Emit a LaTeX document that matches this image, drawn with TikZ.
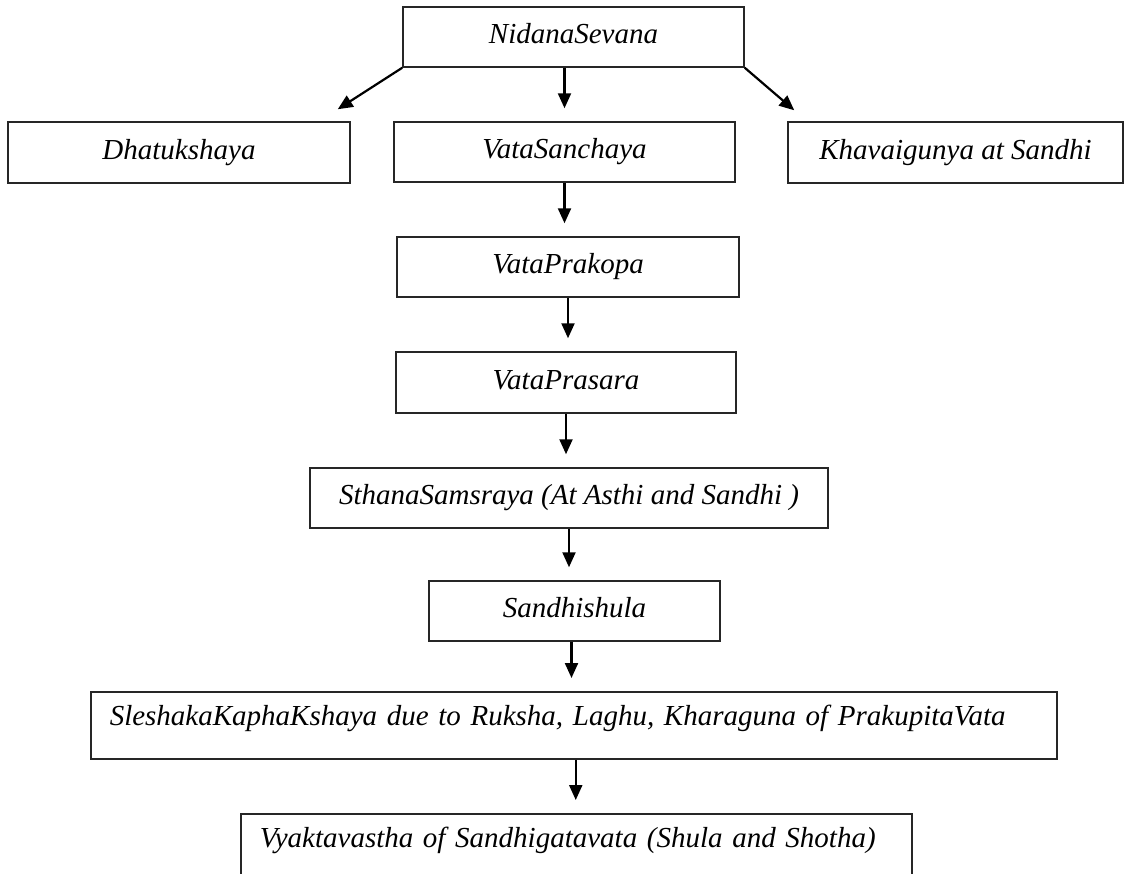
\documentclass[tikz,border=0pt]{standalone}
\usepackage{fontspec}
\setmainfont{Liberation Serif}
\usetikzlibrary{arrows.meta}
\begin{document}
\begin{tikzpicture}[x=1pt,y=-1pt,
  box/.style={draw=black!85, line width=1.5pt, inner sep=0pt,
    font=\fontsize{29}{34}\selectfont\itshape,
    text height=20pt, text depth=7pt},
  lbox/.style={draw=black!85, line width=1.5pt, inner ysep=0pt, inner xsep=19pt,
    font=\fontsize{29}{34}\selectfont\itshape, align=left, anchor=north west},
  arr/.style={line width=2.2pt, -{Triangle[length=15pt,width=13pt]}},
  varr/.style={arr, shorten >=13pt}]
\useasboundingbox[fill=white] (0,0) rectangle (1124,873);
\node[box, minimum width=341pt, minimum height=60pt] (nid) at (573.5,37) {NidanaSevana};
\node[box, minimum width=342pt, minimum height=61pt] (dha) at (179,152.5) {Dhatukshaya};
\node[box, minimum width=341pt, minimum height=60pt] (san) at (564.5,152) {VataSanchaya};
\node[box, minimum width=335pt, minimum height=61pt] (kha) at (955.5,152.5) {Khavaigunya at Sandhi};
\node[box, minimum width=342pt, minimum height=60pt] (pko) at (568,267) {VataPrakopa};
\node[box, minimum width=340pt, minimum height=61pt] (pra) at (566,382.5) {VataPrasara};
\node[box, minimum width=518pt, minimum height=60pt] (sth) at (569,498) {SthanaSamsraya (At Asthi and Sandhi )};
\node[box, minimum width=291pt, minimum height=60pt] (sdh) at (574.5,611) {Sandhishula};
\node[lbox, text width=928pt, text height=34pt, text depth=33pt] (sle) at (90,691)
  {SleshakaKaphaKshaya due to Ruksha, Laghu, Kharaguna of PrakupitaVata};
\node[lbox, text width=633pt, text height=34pt, text depth=60pt] (vya) at (240,813)
  {Vyaktavastha of Sandhigatavata (Shula and Shotha)};
\draw[arr] (nid.south west) -- ([xshift=-13pt,yshift=12pt]dha.north east);
\draw[arr] (nid.south east) -- ([xshift=7pt,yshift=11pt]kha.north west);
\draw[varr] (san.north |- nid.south) -- (san.north);
\draw[varr] (san.south) -- (san.south |- pko.north);
\draw[varr] (pko.south) -- (pko.south |- pra.north);
\draw[varr] (pra.south) -- (pra.south |- sth.north);
\draw[varr] (sth.south) -- (sth.south |- sdh.north);
\draw[varr] ([xshift=-3pt]sdh.south) -- ([xshift=-3pt]sdh.south |- sle.north);
\draw[varr] ([xshift=2pt]sle.south) -- ([xshift=2pt]sle.south |- vya.north);
\end{tikzpicture}
\end{document}
